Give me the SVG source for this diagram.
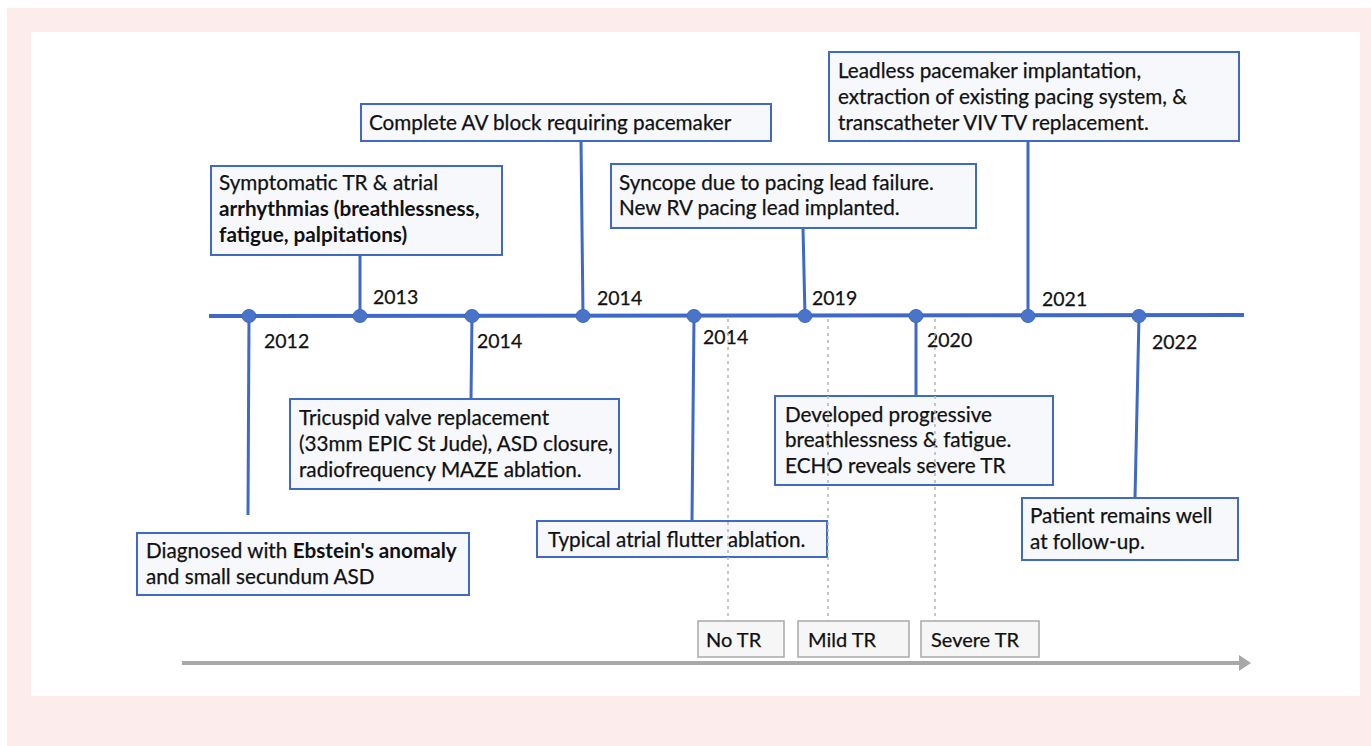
<svg xmlns="http://www.w3.org/2000/svg" width="1371" height="746" viewBox="0 0 1371 746">
<defs>
<style>
.box{fill:#f6f8fc;stroke:#4069c4;stroke-width:2}
.trbox{fill:#f6f6f6;stroke:#a9a9a9;stroke-width:1.5}
.t{font-family:Lato,"Open Sans",sans-serif;font-size:20.7px;fill:#111;stroke:#111;stroke-width:0.25}
.b{font-weight:bold;stroke-width:0}
.tr{font-family:Lato,"Open Sans",sans-serif;font-size:20px;fill:#111;stroke:#111;stroke-width:0.25}
.yr{font-family:Lato,"Open Sans",sans-serif;font-size:19.5px;fill:#111;stroke:#111;stroke-width:0.25}
.stem{stroke:#3f69c6;stroke-width:3;fill:none}
.dash{stroke:#b5b5b5;stroke-width:1.5;stroke-dasharray:3 4;fill:none}
.dot{fill:#4a74c8;stroke:#3f69c6;stroke-width:1}
</style>
<marker id="arr" markerWidth="4" markerHeight="4" refX="1" refY="2" orient="auto" markerUnits="strokeWidth">
<path d="M0,0 L3,2 L0,4 z" fill="#a8a8a8"/>
</marker>
</defs>
<rect x="0" y="0" width="1371" height="746" fill="#ffffff"/>
<rect x="7" y="8" width="1364" height="738" fill="#fcecec"/>
<rect x="31" y="32" width="1329" height="664" fill="#ffffff"/>

<g id="connectors">
<line x1="209" y1="316" x2="1244" y2="315" stroke="#3f69c6" stroke-width="4"/>
<line class="stem" x1="249" y1="316" x2="248" y2="515"/>
<line class="stem" x1="360" y1="316" x2="360" y2="256"/>
<line class="stem" x1="472" y1="316" x2="471" y2="399"/>
<line class="stem" x1="583" y1="316" x2="581" y2="141"/>
<line class="stem" x1="694" y1="316" x2="692" y2="521"/>
<line class="stem" x1="805" y1="316" x2="803" y2="228"/>
<line class="stem" x1="916" y1="316" x2="916" y2="396"/>
<line class="stem" x1="1028" y1="316" x2="1028" y2="141"/>
<line class="stem" x1="1139" y1="316" x2="1135" y2="498"/>
<line x1="182" y1="663" x2="1243" y2="663" stroke="#a8a8a8" stroke-width="4" marker-end="url(#arr)"/>
</g>

<g id="dots">
<ellipse class="dot" cx="249" cy="316" rx="7" ry="6.5"/>
<ellipse class="dot" cx="360" cy="316" rx="7" ry="6.5"/>
<ellipse class="dot" cx="472" cy="316" rx="7" ry="6.5"/>
<ellipse class="dot" cx="583" cy="316" rx="7" ry="6.5"/>
<ellipse class="dot" cx="694" cy="316" rx="7" ry="6.5"/>
<ellipse class="dot" cx="805" cy="316" rx="7" ry="6.5"/>
<ellipse class="dot" cx="916" cy="316" rx="7" ry="6.5"/>
<ellipse class="dot" cx="1028" cy="316" rx="7" ry="6.5"/>
<ellipse class="dot" cx="1139" cy="316" rx="7" ry="6.5"/>
</g>

<g id="years">
<text class="yr" x="264" y="348">2012</text>
<text class="yr" x="373" y="304">2013</text>
<text class="yr" x="477" y="348">2014</text>
<text class="yr" x="597" y="305">2014</text>
<text class="yr" x="703" y="344">2014</text>
<text class="yr" x="812" y="305">2019</text>
<text class="yr" x="927" y="347">2020</text>
<text class="yr" x="1042" y="306">2021</text>
<text class="yr" x="1152" y="349">2022</text>
</g>

<g id="n2012">
<rect class="box" x="137" y="533" width="332" height="62"/>
<text class="t" x="146" y="558">Diagnosed with <tspan class="b">Ebstein's anomaly</tspan></text>
<text class="t" x="146" y="584">and small secundum ASD</text>
</g>
<g id="n2013">
<rect class="box" x="211" y="166" width="291" height="89"/>
<text class="t" x="219" y="190">Symptomatic TR &amp; atrial</text>
<text class="t b" x="219" y="216">arrhythmias (breathlessness,</text>
<text class="t b" x="219" y="242">fatigue, palpitations)</text>
</g>
<g id="n2014a">
<rect class="box" x="290" y="399" width="329" height="90"/>
<text class="t" x="299" y="425">Tricuspid valve replacement</text>
<text class="t" x="299" y="451">(33mm EPIC St Jude), ASD closure,</text>
<text class="t" x="299" y="477">radiofrequency MAZE ablation.</text>
</g>
<g id="n2014b">
<rect class="box" x="361" y="104" width="410" height="37"/>
<text class="t" x="369" y="130">Complete AV block requiring pacemaker</text>
</g>
<g id="n2014c">
<rect class="box" x="537" y="521" width="290" height="36"/>
<text class="t" x="548" y="547">Typical atrial flutter ablation.</text>
</g>
<g id="n2019">
<rect class="box" x="611" y="164" width="365" height="64"/>
<text class="t" x="619" y="190">Syncope due to pacing lead failure.</text>
<text class="t" x="619" y="215">New RV pacing lead implanted.</text>
</g>
<g id="n2020">
<rect class="box" x="775" y="396" width="278" height="89"/>
<text class="t" x="785" y="422">Developed progressive</text>
<text class="t" x="785" y="447">breathlessness &amp; fatigue.</text>
<text class="t" x="785" y="473">ECHO reveals severe TR</text>
</g>
<g id="n2021">
<rect class="box" x="829" y="52" width="410" height="89"/>
<text class="t" x="838" y="78">Leadless pacemaker implantation,</text>
<text class="t" x="838" y="104">extraction of existing pacing system, &amp;</text>
<text class="t" x="838" y="130">transcatheter VIV TV replacement.</text>
</g>
<g id="n2022">
<rect class="box" x="1022" y="498" width="216" height="62"/>
<text class="t" x="1030" y="523">Patient remains well</text>
<text class="t" x="1030" y="549">at follow-up.</text>
</g>

<g id="tr-markers">
<line class="dash" x1="728" y1="319" x2="728" y2="621"/>
<line class="dash" x1="828" y1="319" x2="828" y2="621"/>
<line class="dash" x1="935" y1="319" x2="935" y2="621"/>
</g>
<g id="noTR">
<rect class="trbox" x="698" y="621" width="86" height="36"/>
<text class="tr" x="706" y="647">No TR</text>
</g>
<g id="mildTR">
<rect class="trbox" x="798" y="621" width="111" height="36"/>
<text class="tr" x="808" y="647">Mild TR</text>
</g>
<g id="severeTR">
<rect class="trbox" x="921" y="621" width="118" height="36"/>
<text class="tr" x="931" y="647">Severe TR</text>
</g>
</svg>
